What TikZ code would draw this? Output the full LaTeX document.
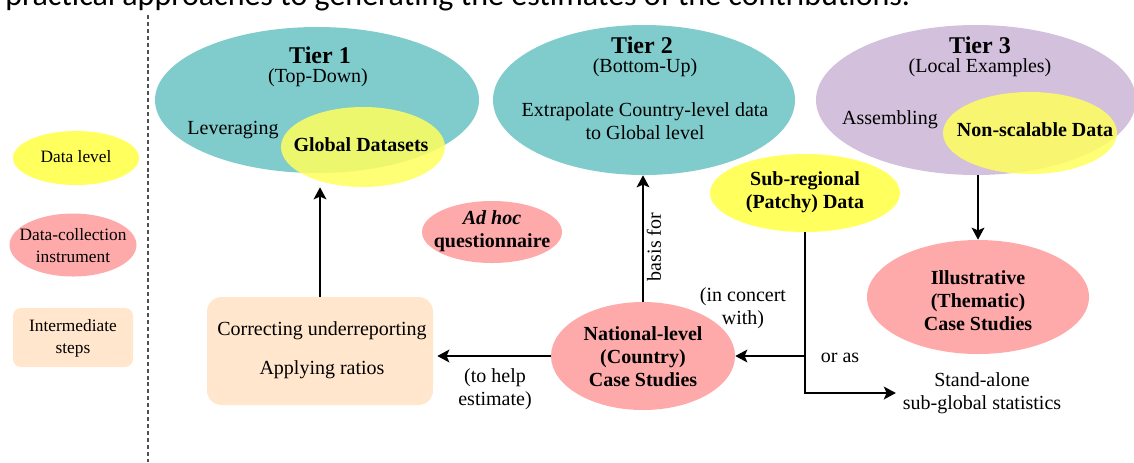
\documentclass[tikz,border=0pt]{standalone}
\usepackage{fontspec}
\setmainfont{Liberation Serif}
\newfontfamily\capfont{Carlito}
\usetikzlibrary{shapes.geometric,arrows.meta}
\definecolor{tealfill}{HTML}{80CCCC}
\definecolor{purplefill}{HTML}{D3C0DC}
\definecolor{yellowfill}{HTML}{FFFF5E}
\definecolor{pinkfill}{HTML}{FFAAAA}
\definecolor{peachfill}{HTML}{FFE6CC}
\definecolor{dashgray}{HTML}{505050}
\begin{document}
\begin{tikzpicture}[x=0.75pt,y=-0.75pt,
  ell/.style 2 args={ellipse, inner sep=0pt, draw=none, minimum width={#1*0.75pt}, minimum height={#2*0.75pt}},
  txt/.style={font=\fontsize{15}{17.25}\selectfont, align=center, inner sep=0pt},
  btxt/.style={font=\fontsize{15}{17.25}\selectfont\bfseries, align=center, inner sep=0pt},
  tiertxt/.style={font=\fontsize{18}{20}\selectfont\bfseries, align=center, inner sep=0pt},
  legtxt/.style={font=\fontsize{13}{16.5}\selectfont, align=center, inner sep=0pt},
  arr/.style={line width=1.7pt, -{Stealth[length=9pt,width=9.5pt,inset=2pt]}},
  plain/.style={line width=1.7pt}
]
\useasboundingbox (0,0) rectangle (1134,462);

% cut-off caption line at the top
\begin{scope}
\clip (0,0) rectangle (1134,462);
\node[anchor=base west, inner sep=0pt, font=\capfont\fontsize{24}{28}\selectfont] (caption) at (5,5)
  {practical approaches to generating the estimates of the contributions.};
\end{scope}

% separator
\draw[dashgray, line width=1.4pt, dash pattern=on 3pt off 2.2pt] (148,15) -- (148,462);

% legend
\node[ell={126}{54}, fill=yellowfill] (lgdata) at (76,158) {};
\node[legtxt] at (76,157) {Data level};
\node[ell={127}{63}, fill=pinkfill] (lginst) at (73,245) {};
\node[legtxt] at (73,246) {Data-collection\\instrument};
\node[draw=none, fill=peachfill, rounded corners=6pt, minimum width={120*0.75pt}, minimum height={59*0.75pt}, inner sep=0pt] (lgstep) at (73,337.5) {};
\node[legtxt] at (73,338) {Intermediate\\steps};

% tiers
\node[ell={324}{146}, fill=tealfill] (tier1) at (317,100) {};
\node[ell={302}{150}, fill=tealfill] (tier2) at (644,100) {};
\node[ell={320}{150}, fill=purplefill] (tier3) at (976,100) {};

\node[ell={164}{80}, fill=yellowfill, fill opacity=0.85] (glob) at (363,147) {};
\node[ell={174}{82}, fill=yellowfill, fill opacity=0.85] (nonsc) at (1030,133) {};

\node[tiertxt] (t1a) at (320,55) {Tier 1};
\node[txt] (t1b) at (318,78) {(Top-Down)};
\node[txt] (t1c) at (233,130) {Leveraging};
\node[btxt] (globt) at (361,145) {Global Datasets};

\node[tiertxt] (t2a) at (642,45) {Tier 2};
\node[txt] (t2b) at (645,68) {(Bottom-Up)};
\node[txt] (t2c) at (645,121) {Extrapolate Country-level data\\to Global level};

\node[tiertxt] (t3a) at (980,45) {Tier 3};
\node[txt] (t3b) at (980,68) {(Local Examples)};
\node[txt] (t3c) at (890,120) {Assembling};
\node[btxt] (nonsct) at (1035,130) {Non-scalable Data};

% other nodes
\node[ell={190}{78}, fill=yellowfill] (sub) at (805,193) {};
\node[btxt] at (805,192) {Sub-regional\\(Patchy) Data};

\node[ell={222}{114}, fill=pinkfill] (illus) at (978,297) {};
\node[btxt] at (978,301) {Illustrative\\(Thematic)\\Case Studies};

\node[ell={140}{62}, fill=pinkfill] (adhoc) at (492,232) {};
\node[btxt] at (492,231) {\itshape Ad hoc\\questionnaire};

\node[ell={184}{108}, fill=pinkfill] (nat) at (643,356) {};
\node[btxt] at (643,357) {National-level\\(Country)\\Case Studies};

\node[draw=none, fill=peachfill, rounded corners=11pt, minimum width={226*0.75pt}, minimum height={108*0.75pt}, inner sep=0pt] (box) at (320,351) {};
\node[txt] at (322,350) {Correcting underreporting\\[12pt]Applying ratios};

\node[txt] (sa) at (982,393) {Stand-alone\\sub-global statistics};

% labels
\node[txt, rotate=90] (basis) at (654,247) {basis for};
\node[txt] (tohelp) at (495,389) {(to help\\estimate)};
\node[txt] (concert) at (743,308) {(in concert\\with)};
\node[txt] (oras) at (840,358) {or as};

% connectors
\draw[arr] (box.north) -- (box.north |- glob.south);
\draw[arr] (nat.north) -- (nat.north |- tier2.south);
\draw[arr, shorten >=3pt] (nat.west) -- (nat.west -| box.east);
\draw[arr] (illus.north |- tier3.south) -- (illus.north);
\draw[arr, shorten >=5pt] (sub.south) |- (sa.west);
\draw[arr] (sub.south |- nat.east) -- (nat.east);
\end{tikzpicture}
\end{document}
